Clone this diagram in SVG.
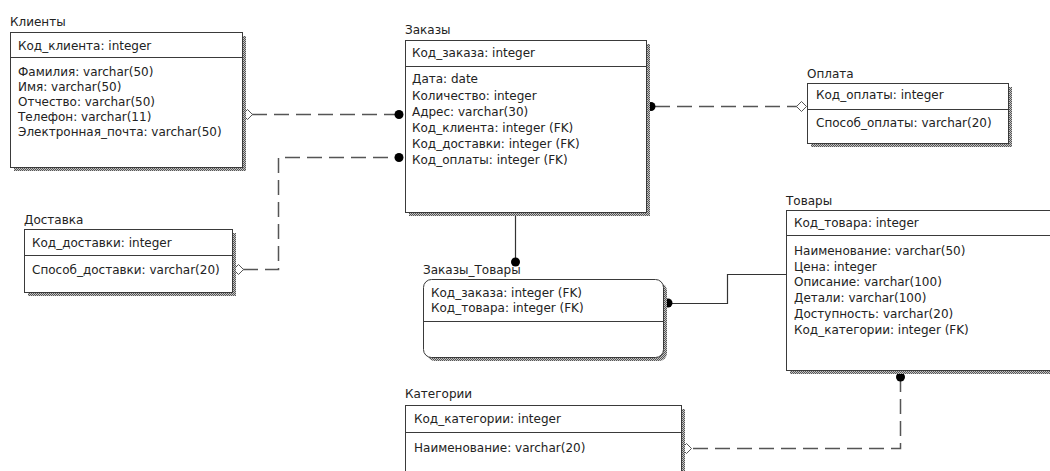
<svg xmlns="http://www.w3.org/2000/svg" width="1050" height="471" viewBox="0 0 1050 471">
<defs>
<pattern id="sh" width="2" height="2" patternUnits="userSpaceOnUse">
<rect width="2" height="2" fill="#c4c4c4"/>
<rect width="1" height="1" fill="#555"/>
<rect x="1" y="1" width="1" height="1" fill="#555"/>
</pattern>
<style>
text{font-family:"DejaVu Sans","Liberation Sans",sans-serif;font-size:12px;fill:#222}
.box{fill:#fff;stroke:#3a3a3a;stroke-width:1}
.shadow{fill:url(#sh)}
.sep{stroke:#3a3a3a;stroke-width:1}
.dash{fill:none;stroke:#555;stroke-width:1.5;stroke-dasharray:15 7}
.solid{fill:none;stroke:#333;stroke-width:1.2}
.dot{fill:#000}
.dia{fill:#fff;stroke:#555;stroke-width:1}
</style>
</defs>
<rect width="1050" height="471" fill="#fff"/>

<g id="connectors">
<path class="dash" d="M252,114.5 H395"/>
<polygon class="dia" points="242.5,114.5 247.5,109.5 252.5,114.5 247.5,119.5"/>
<circle class="dot" cx="399" cy="114.5" r="4.5"/>

<path class="dash" d="M243,269.5 H278.5 V157.5 H395"/>
<polygon class="dia" points="233.5,269.5 238.5,264.5 243.5,269.5 238.5,274.5"/>
<circle class="dot" cx="399" cy="157.5" r="4.5"/>

<path class="dash" d="M655,106.5 H797"/>
<circle class="dot" cx="651" cy="106.5" r="4.5"/>
<polygon class="dia" points="796.5,106.5 801.5,101.5 806.5,106.5 801.5,111.5"/>

<path class="solid" d="M515.5,212 V262"/>
<circle class="dot" cx="515.5" cy="262" r="4.5"/>

<path class="solid" d="M668,303.5 H727.5 V274.5 H786"/>
<circle class="dot" cx="668" cy="303" r="4.5"/>

<path class="dash" d="M900.5,377 V448.5 H691"/>
<circle class="dot" cx="900.5" cy="377" r="4.5"/>
<polygon class="dia" points="681.5,448.5 686.5,443.5 691.5,448.5 686.5,453.5"/>
</g>

<g id="klienty">
<text x="10" y="26">Клиенты</text>
<rect class="shadow" x="14" y="36" width="232" height="135"/>
<rect class="box" x="10.5" y="32.5" width="232" height="135"/>
<line class="sep" x1="10.5" y1="57.5" x2="242.5" y2="57.5"/>
<text x="18" y="50">Код_клиента: integer</text>
<text x="18" y="76">Фамилия: varchar(50)</text>
<text x="18" y="91">Имя: varchar(50)</text>
<text x="18" y="106">Отчество: varchar(50)</text>
<text x="18" y="121">Телефон: varchar(11)</text>
<text x="18" y="136">Электронная_почта: varchar(50)</text>
</g>

<g id="zakazy">
<text x="405" y="34">Заказы</text>
<rect class="shadow" x="409" y="44" width="241" height="172"/>
<rect class="box" x="405.5" y="40.5" width="241" height="172"/>
<line class="sep" x1="405.5" y1="66.5" x2="646.5" y2="66.5"/>
<text x="412" y="57">Код_заказа: integer</text>
<text x="412" y="83">Дата: date</text>
<text x="412" y="100">Количество: integer</text>
<text x="412" y="116">Адрес: varchar(30)</text>
<text x="412" y="132">Код_клиента: integer (FK)</text>
<text x="412" y="148">Код_доставки: integer (FK)</text>
<text x="412" y="164">Код_оплаты: integer (FK)</text>
</g>

<g id="oplata">
<text x="807" y="78">Оплата</text>
<rect class="shadow" x="811" y="87" width="201" height="60"/>
<rect class="box" x="807.5" y="83.5" width="201" height="60"/>
<line class="sep" x1="807.5" y1="109.5" x2="1008.5" y2="109.5"/>
<text x="816" y="99">Код_оплаты: integer</text>
<text x="816" y="127">Способ_оплаты: varchar(20)</text>
</g>

<g id="dostavka">
<text x="24" y="224">Доставка</text>
<rect class="shadow" x="28" y="233" width="208" height="63"/>
<rect class="box" x="24.5" y="229.5" width="208" height="63"/>
<line class="sep" x1="24.5" y1="255.5" x2="232.5" y2="255.5"/>
<text x="32" y="247">Код_доставки: integer</text>
<text x="32" y="274">Способ_доставки: varchar(20)</text>
</g>

<g id="zakazy_tovary">
<text x="423" y="274">Заказы_Товары</text>
<rect class="shadow" x="427" y="283" width="240" height="78" rx="8"/>
<rect class="box" x="423.5" y="279.5" width="240" height="78" rx="8"/>
<line class="sep" x1="423.5" y1="321.5" x2="663.5" y2="321.5"/>
<text x="431" y="297">Код_заказа: integer (FK)</text>
<text x="431" y="312">Код_товара: integer (FK)</text>
</g>

<g id="tovary">
<text x="786" y="205">Товары</text>
<rect class="shadow" x="790" y="214" width="300" height="160"/>
<rect class="box" x="786.5" y="210.5" width="300" height="160"/>
<line class="sep" x1="786.5" y1="235.5" x2="1086" y2="235.5"/>
<text x="794" y="227">Код_товара: integer</text>
<text x="794" y="255">Наименование: varchar(50)</text>
<text x="794" y="271">Цена: integer</text>
<text x="794" y="286">Описание: varchar(100)</text>
<text x="794" y="302">Детали: varchar(100)</text>
<text x="794" y="318">Доступность: varchar(20)</text>
<text x="794" y="334">Код_категории: integer (FK)</text>
</g>

<g id="kategorii">
<text x="405" y="398">Категории</text>
<rect class="shadow" x="409" y="409" width="276" height="80"/>
<rect class="box" x="405.5" y="405.5" width="276" height="80"/>
<line class="sep" x1="405.5" y1="432.5" x2="681.5" y2="432.5"/>
<text x="414" y="423">Код_категории: integer</text>
<text x="414" y="452">Наименование: varchar(20)</text>
</g>
</svg>
